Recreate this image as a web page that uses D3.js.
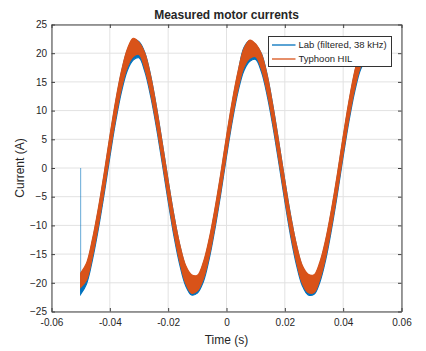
<!DOCTYPE html>
<html>
<head>
<meta charset="utf-8">
<script src="https://cdn.jsdelivr.net/npm/d3@7"></script>
<style>
  body { margin: 0; background: #fff; }
  #chart { width: 426px; height: 351px; }
  text { font-family: 'Liberation Sans', Arial, sans-serif; fill: #262626; }
</style>
</head>
<body>
<div id="chart"></div>
<script>
// sample times (s)
const timeS = [
  -0.050, -0.048, -0.046, -0.044, -0.042, -0.040, -0.038, -0.036, -0.034, -0.032,
  -0.030, -0.028, -0.026, -0.024, -0.022, -0.020, -0.018, -0.016, -0.014, -0.012,
  -0.010, -0.008, -0.006, -0.004, -0.002, 0.000, 0.002, 0.004, 0.006, 0.008,
  0.010, 0.012, 0.014, 0.016, 0.018, 0.020, 0.022, 0.024, 0.026, 0.028,
  0.030, 0.032, 0.034, 0.036, 0.038, 0.040, 0.042, 0.044, 0.046, 0.048, 0.050
];

// Typhoon HIL ripple band (A)
const hilUpper = [
  -18.3, -16.6, -12.5, -7.2, -1.1, 5.5, 11.7, 16.9, 20.7, 22.6,
  21.9, 20.0, 16.0, 10.5, 4.2, -2.3, -8.4, -13.4, -17.0, -18.6,
  -18.7, -16.5, -12.5, -7.2, -1.1, 5.5, 11.7, 16.9, 20.8, 22.3,
  21.6, 19.8, 16.0, 10.5, 4.2, -2.3, -8.4, -13.4, -17.0, -18.5,
  -18.6, -16.4, -12.5, -7.2, -1.1, 5.5, 11.7, 16.9, 20.7, 22.4, 22.0
];
const hilLower = [
  -20.8, -19.5, -15.5, -10.2, -4.1, 2.5, 8.7, 13.9, 17.6, 19.4,
  19.8, 17.3, 13.0, 7.5, 1.2, -5.3, -11.4, -16.4, -20.1, -21.8,
  -21.4, -19.4, -15.5, -10.2, -4.1, 2.5, 8.7, 13.9, 17.6, 19.1,
  19.4, 17.2, 13.0, 7.5, 1.2, -5.3, -11.4, -16.4, -20.1, -21.7,
  -21.7, -19.4, -15.5, -10.2, -4.1, 2.5, 8.7, 13.9, 17.7, 19.4, 19.6
];

// Lab (filtered, 38 kHz) ripple band (A)
const labUpper = [
  -18.5, -16.9, -12.8, -7.5, -1.4, 5.2, 11.4, 16.7, 20.5, 22.3,
  22.0, 20.1, 16.1, 10.6, 4.3, -2.2, -8.3, -13.5, -17.2, -18.9,
  -19.0, -16.8, -12.8, -7.5, -1.4, 5.2, 11.4, 16.7, 21.0, 22.2,
  21.5, 19.9, 16.1, 10.6, 4.3, -2.2, -8.3, -13.5, -17.2, -18.8,
  -18.9, -16.7, -12.8, -7.5, -1.4, 5.2, 11.4, 16.7, 20.5, 22.2, 21.8
];
const labLower = [
  -22.0, -20.2, -16.1, -10.8, -4.7, 1.9, 8.1, 13.3, 17.0, 18.8,
  19.2, 16.8, 12.5, 7.0, 0.7, -5.8, -11.9, -16.9, -20.5, -22.1,
  -21.8, -19.9, -16.0, -10.7, -4.6, 2.0, 8.2, 13.4, 17.0, 18.6,
  18.9, 16.7, 12.5, 7.0, 0.7, -5.8, -11.9, -16.9, -20.5, -22.1,
  -22.0, -19.9, -16.0, -10.7, -4.6, 2.0, 8.2, 13.4, 17.2, 18.9, 19.1
];
// first lab sample before the jump
const labStartT = -0.05;
const labStartV = 0;
const labJumpV = -21.5;

const seriesNames = ['Lab (filtered, 38 kHz)', 'Typhoon HIL'];
const seriesColors = ['#0072BD', '#D95319'];

const xTicks = [-0.06, -0.04, -0.02, 0, 0.02, 0.04, 0.06];
const xTickLabels = ['-0.06', '-0.04', '-0.02', '0', '0.02', '0.04', '0.06'];
const yTicks = [-25, -20, -15, -10, -5, 0, 5, 10, 15, 20, 25];

const width = 426, height = 351;
const margin = { top: 24.5, right: 24.5, bottom: 39.5, left: 51.5 };

const x = d3.scaleLinear()
  .domain([-0.06, 0.06])
  .range([margin.left, width - margin.right]);

const y = d3.scaleLinear()
  .domain([-25, 25])
  .range([height - margin.bottom, margin.top]);

const svg = d3.select('#chart')
  .append('svg')
  .attr('width', width)
  .attr('height', height)
  .attr('viewBox', [0, 0, width, height].join(' '));

svg.append('defs').append('clipPath')
  .attr('id', 'plot-clip')
  .append('rect')
  .attr('x', margin.left)
  .attr('y', margin.top)
  .attr('width', x.range()[1] - x.range()[0])
  .attr('height', y.range()[0] - y.range()[1]);

// grid
svg.append('g')
  .selectAll('line')
  .data(xTicks)
  .join('line')
  .attr('x1', d => x(d)).attr('x2', d => x(d))
  .attr('y1', y(-25)).attr('y2', y(25))
  .attr('stroke', '#e2e2e2');

svg.append('g')
  .selectAll('line')
  .data(yTicks)
  .join('line')
  .attr('x1', x(-0.06)).attr('x2', x(0.06))
  .attr('y1', d => y(d)).attr('y2', d => y(d))
  .attr('stroke', '#e2e2e2');

const band = (up, lo) => d3.area()
  .x((d, i) => x(timeS[i]))
  .y0((d, i) => y(lo[i]))
  .y1((d, i) => y(up[i]))
  .curve(d3.curveCatmullRom.alpha(0.5));

const plot = svg.append('g').attr('clip-path', 'url(#plot-clip)');

// lab first, HIL on top
plot.append('path')
  .datum(timeS)
  .attr('fill', seriesColors[0])
  .attr('stroke', seriesColors[0])
  .attr('stroke-width', 1.2)
  .attr('d', band(labUpper, labLower));

plot.append('line')
  .attr('x1', x(labStartT)).attr('x2', x(labStartT))
  .attr('y1', y(labStartV)).attr('y2', y(labJumpV))
  .attr('stroke', seriesColors[0])
  .attr('stroke-opacity', 0.6)
  .attr('stroke-width', 1);

plot.append('path')
  .datum(timeS)
  .attr('fill', seriesColors[1])
  .attr('stroke', seriesColors[1])
  .attr('stroke-width', 1.2)
  .attr('d', band(hilUpper, hilLower));

// axes (ticks inside, box on)
const styleAxis = g => {
  g.select('.domain').attr('stroke', '#404040');
  g.selectAll('.tick line').attr('stroke', '#404040');
  g.selectAll('.tick text')
    .style('font-family', "'Liberation Sans', Arial, sans-serif")
    .style('font-size', '10px')
    .attr('fill', '#262626');
};

svg.append('g')
  .attr('transform', `translate(0,${y(-25)})`)
  .call(d3.axisBottom(x).tickValues(xTicks)
    .tickFormat((d, i) => xTickLabels[i])
    .tickSizeInner(-3.5).tickSizeOuter(0).tickPadding(7))
  .call(styleAxis);

svg.append('g')
  .attr('transform', `translate(0,${y(25)})`)
  .call(d3.axisTop(x).tickValues(xTicks).tickFormat('')
    .tickSizeInner(-3.5).tickSizeOuter(0))
  .call(styleAxis);

svg.append('g')
  .attr('transform', `translate(${x(-0.06)},0)`)
  .call(d3.axisLeft(y).tickValues(yTicks).tickFormat(d3.format('d'))
    .tickSizeInner(-3.5).tickSizeOuter(0).tickPadding(4.5))
  .call(styleAxis);

svg.append('g')
  .attr('transform', `translate(${x(0.06)},0)`)
  .call(d3.axisRight(y).tickValues(yTicks).tickFormat('')
    .tickSizeInner(-3.5).tickSizeOuter(0))
  .call(styleAxis);

// title and labels
svg.append('text')
  .attr('x', (x.range()[0] + x.range()[1]) / 2)
  .attr('y', 18.5)
  .style('text-anchor', 'middle')
  .style('font-weight', 'bold')
  .style('font-size', '12px')
  .attr('fill', '#000')
  .text('Measured motor currents');

svg.append('text')
  .attr('x', (x.range()[0] + x.range()[1]) / 2)
  .attr('y', 344)
  .style('text-anchor', 'middle')
  .style('font-size', '12px')
  .text('Time (s)');

svg.append('text')
  .attr('transform', `translate(24,${(y.range()[0] + y.range()[1]) / 2}) rotate(-90)`)
  .style('text-anchor', 'middle')
  .style('font-size', '12px')
  .text('Current (A)');

// legend
const legend = svg.append('g').attr('transform', 'translate(268.5,36.5)');

legend.append('rect')
  .attr('width', 123)
  .attr('height', 30)
  .attr('fill', '#fff')
  .attr('stroke', '#333');

seriesNames.forEach((name, i) => {
  const ly = 8.5 + i * 14;
  legend.append('line')
    .attr('x1', 3.5).attr('x2', 27)
    .attr('y1', ly).attr('y2', ly)
    .attr('stroke', seriesColors[i])
    .attr('stroke-width', 1.3);
  legend.append('text')
    .attr('x', 30)
    .attr('y', ly)
    .attr('dy', '0.35em')
    .style('font-size', '9.5px')
    .text(name);
});
</script>
</body>
</html>
